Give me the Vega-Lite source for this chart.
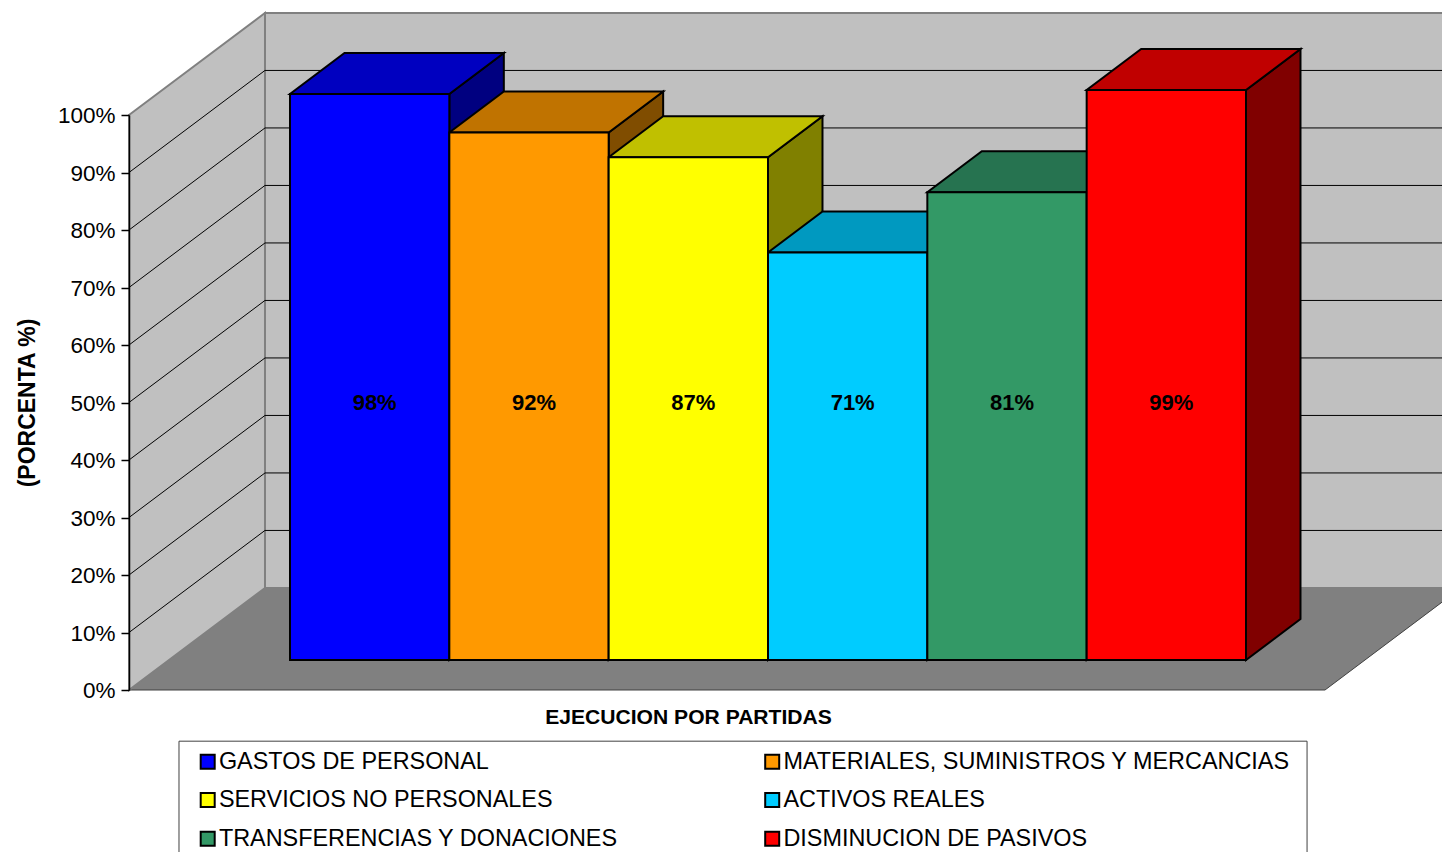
{
"$schema":"https://vega.github.io/schema/vega-lite/v6.json",
"width":1442,"height":852,"padding":0,"autosize":"none",
"background":"white",
"config":{"view":{"stroke":null},"font":"Liberation Sans","axis":{"grid":false}},
"datasets":{
"partidas":[
{"categoria":"GASTOS DE PERSONAL","pct":98.6,"etiqueta":"98%"},
{"categoria":"MATERIALES, SUMINISTROS Y MERCANCIAS","pct":91.9,"etiqueta":"92%"},
{"categoria":"SERVICIOS NO PERSONALES","pct":87.6,"etiqueta":"87%"},
{"categoria":"ACTIVOS REALES","pct":71,"etiqueta":"71%"},
{"categoria":"TRANSFERENCIAS Y DONACIONES","pct":81.5,"etiqueta":"81%"},
{"categoria":"DISMINUCION DE PASIVOS","pct":99.3,"etiqueta":"99%"}],
"laterales":[
{"categoria":"GASTOS DE PERSONAL","pos":1.5,"alto":98.6,"base":0},
{"categoria":"GASTOS DE PERSONAL","pos":1.842,"alto":105.74,"base":7.14},
{"categoria":"MATERIALES, SUMINISTROS Y MERCANCIAS","pos":2.5,"alto":91.9,"base":0},
{"categoria":"MATERIALES, SUMINISTROS Y MERCANCIAS","pos":2.842,"alto":99.04,"base":7.14},
{"categoria":"SERVICIOS NO PERSONALES","pos":3.5,"alto":87.6,"base":0},
{"categoria":"SERVICIOS NO PERSONALES","pos":3.842,"alto":94.74,"base":7.14},
{"categoria":"ACTIVOS REALES","pos":4.5,"alto":71,"base":0},
{"categoria":"ACTIVOS REALES","pos":4.842,"alto":78.14,"base":7.14},
{"categoria":"TRANSFERENCIAS Y DONACIONES","pos":5.5,"alto":81.5,"base":0},
{"categoria":"TRANSFERENCIAS Y DONACIONES","pos":5.842,"alto":88.64,"base":7.14},
{"categoria":"DISMINUCION DE PASIVOS","pos":6.5,"alto":99.3,"base":0},
{"categoria":"DISMINUCION DE PASIVOS","pos":6.842,"alto":106.44,"base":7.14}],
"rejilla":[
{"pct":10,"fondo":27.75},{"pct":20,"fondo":37.75},{"pct":30,"fondo":47.75},
{"pct":40,"fondo":57.75},{"pct":50,"fondo":67.75},{"pct":60,"fondo":77.75},
{"pct":70,"fondo":87.75},{"pct":80,"fondo":97.75},{"pct":90,"fondo":107.75}],
"piso":[
{"px":0,"a":0,"b":0},{"px":11.37,"a":17.75,"b":0},{"px":100,"a":17.75,"b":0},{"px":111.37,"a":17.75,"b":17.75}],
"muro":[
{"px":0,"a":100,"b":0},{"px":11.37,"a":117.75,"b":17.75}]
},
"layer":[
{"data":{"name":"piso"},"mark":{"type":"area","fill":"#808080","stroke":"#404040","strokeWidth":1},
 "encoding":{"x":{"field":"px","type":"quantitative","axis":null,"scale":{"domain":[0,100],"range":[129,1325]}},
 "y":{"field":"a","type":"quantitative","axis":null,"scale":{"domain":[0,100],"range":[690,115]}},"y2":{"field":"b"}}},
{"mark":{"type":"rect","fill":"#C0C0C0","stroke":"#808080","strokeWidth":2},
 "data":{"values":[{}]},
 "encoding":{"x":{"datum":11.37,"type":"quantitative","axis":null,"scale":{"domain":[0,100],"range":[129,1325]}},"x2":{"datum":115},
 "y":{"datum":17.75,"type":"quantitative","axis":null,"scale":{"domain":[0,100],"range":[690,115]}},"y2":{"datum":117.75}}},
{"data":{"name":"muro"},"mark":{"type":"area","fill":"#C0C0C0","stroke":"#808080","strokeWidth":2},
 "encoding":{"x":{"field":"px","type":"quantitative","axis":null,"scale":{"domain":[0,100],"range":[129,1325]}},
 "y":{"field":"a","type":"quantitative","axis":null,"scale":{"domain":[0,100],"range":[690,115]}},"y2":{"field":"b"}}},
{"data":{"name":"rejilla"},"mark":{"type":"rule","stroke":"#000000","strokeWidth":1},
 "encoding":{"x":{"datum":11.37,"type":"quantitative","axis":null,"scale":{"domain":[0,100],"range":[129,1325]}},"x2":{"datum":115},
 "y":{"field":"fondo","type":"quantitative","axis":null,"scale":{"domain":[0,100],"range":[690,115]}}}},
{"data":{"name":"rejilla"},"mark":{"type":"rule","stroke":"#000000","strokeWidth":1},
 "encoding":{"x":{"datum":0,"type":"quantitative","scale":{"domain":[0,100],"range":[129,1325]},
   "axis":{"orient":"bottom","title":"EJECUCION POR PARTIDAS","domain":false,"ticks":false,"labels":false,"titleFontSize":21.1,"titleFontWeight":"bold","titleColor":"#000","titleX":688,"titleY":-146,"titleAlign":"center","titleAnchor":null}},
   "x2":{"datum":11.37},
 "y":{"field":"pct","type":"quantitative","scale":{"domain":[0,100],"range":[690,115]},
   "axis":{"orient":"left","offset":-129,"zindex":1,"title":"(PORCENTA %)","values":[0,10,20,30,40,50,60,70,80,90,100],"labelExpr":"datum.value + '%'","labelFontSize":22.5,"labelColor":"#000","labelPadding":6,"labelOffset":0.5,"tickSize":8,"tickColor":"#000","tickWidth":1.5,"domainColor":"#000","domainWidth":1.5,"titleFontSize":23,"titleFontWeight":"bold","titleColor":"#000","titleX":-102,"titleY":402.5,"titleAngle":270,"titleAlign":"center","titleBaseline":"middle","titleAnchor":null}},
 "y2":{"field":"fondo"}}},
{"data":{"name":"laterales"},"mark":{"type":"area","stroke":"#000000","strokeWidth":2},
 "encoding":{"x":{"field":"pos","type":"quantitative","axis":null,"scale":{"domain":[0.5,6.5],"range":[290,1246]}},
 "y":{"field":"alto","type":"quantitative","axis":null,"scale":{"domain":[0,100],"range":[660,86]}},"y2":{"field":"base"},
 "color":{"field":"categoria","type":"nominal","legend":null,"scale":{"domain":["GASTOS DE PERSONAL","MATERIALES, SUMINISTROS Y MERCANCIAS","SERVICIOS NO PERSONALES","ACTIVOS REALES","TRANSFERENCIAS Y DONACIONES","DISMINUCION DE PASIVOS"],"range":["#000080","#804D00","#808000","#006680","#1A4D33","#800000"]}}}},
{"data":{"name":"partidas"},"mark":{"type":"point","filled":true,"opacity":1,"size":40000,"shape":"M-0.7967,0L0.7967,0L1.3417,-0.41L-0.2517,-0.41Z","stroke":"#000000","strokeWidth":2},
 "encoding":{"x":{"field":"categoria","type":"nominal","axis":null,"scale":{"type":"band","domain":["GASTOS DE PERSONAL","MATERIALES, SUMINISTROS Y MERCANCIAS","SERVICIOS NO PERSONALES","ACTIVOS REALES","TRANSFERENCIAS Y DONACIONES","DISMINUCION DE PASIVOS"],"range":[290,1246],"padding":0}},
 "y":{"field":"pct","type":"quantitative","axis":null,"scale":{"domain":[0,100],"range":[660,86]}},
 "color":{"field":"categoria","type":"nominal","legend":null,"scale":{"domain":["GASTOS DE PERSONAL","MATERIALES, SUMINISTROS Y MERCANCIAS","SERVICIOS NO PERSONALES","ACTIVOS REALES","TRANSFERENCIAS Y DONACIONES","DISMINUCION DE PASIVOS"],"range":["#0000C0","#C07300","#C0C000","#0099C0","#267350","#C00000"]}}}},
{"mark":{"type":"rect","fill":"#FFFFFF","stroke":"#404040","strokeWidth":1},
 "data":{"values":[{}]},
 "encoding":{"x":{"datum":4.18,"type":"quantitative","axis":null,"scale":{"domain":[0,100],"range":[129,1325]}},"x2":{"datum":98.5},
 "y":{"datum":-8.9,"type":"quantitative","axis":null,"scale":{"domain":[0,100],"range":[690,115]}},"y2":{"datum":-32}}},
{"data":{"name":"partidas"},"mark":{"type":"bar","stroke":"#000000","strokeWidth":2,"opacity":1},
 "encoding":{"x":{"field":"categoria","type":"nominal","axis":null,"scale":{"type":"band","domain":["GASTOS DE PERSONAL","MATERIALES, SUMINISTROS Y MERCANCIAS","SERVICIOS NO PERSONALES","ACTIVOS REALES","TRANSFERENCIAS Y DONACIONES","DISMINUCION DE PASIVOS"],"range":[290,1246],"padding":0}},
 "y":{"field":"pct","type":"quantitative","axis":null,"scale":{"domain":[0,100],"range":[660,86]}},
 "color":{"field":"categoria","type":"nominal","scale":{"domain":["GASTOS DE PERSONAL","MATERIALES, SUMINISTROS Y MERCANCIAS","SERVICIOS NO PERSONALES","ACTIVOS REALES","TRANSFERENCIAS Y DONACIONES","DISMINUCION DE PASIVOS"],"range":["#0000FF","#FF9900","#FFFF00","#00CCFF","#339966","#FF0000"]},
  "legend":{"orient":"none","legendX":196,"legendY":749.5,"title":null,"columns":2,"direction":"horizontal","padding":0,"columnPadding":142.5,"rowPadding":13.8,"labelFontSize":23.4,"labelColor":"#000","labelOffset":-0.5,"labelLimit":700,"symbolType":"square","symbolSize":196,"symbolStrokeColor":"#000","symbolStrokeWidth":2,"symbolOpacity":1}}}},
{"data":{"name":"partidas"},"mark":{"type":"text","fontSize":22,"fontWeight":"bold","color":"#000000","dx":5},
 "encoding":{"x":{"field":"categoria","type":"nominal","axis":null,"scale":{"type":"band","domain":["GASTOS DE PERSONAL","MATERIALES, SUMINISTROS Y MERCANCIAS","SERVICIOS NO PERSONALES","ACTIVOS REALES","TRANSFERENCIAS Y DONACIONES","DISMINUCION DE PASIVOS"],"range":[290,1246],"padding":0}},
 "y":{"datum":44.8,"type":"quantitative","axis":null,"scale":{"domain":[0,100],"range":[660,86]}},
 "text":{"field":"etiqueta"}}}
],
"resolve":{"scale":{"x":"independent","y":"independent","color":"independent"},"axis":{"x":"independent","y":"independent"}}
}
